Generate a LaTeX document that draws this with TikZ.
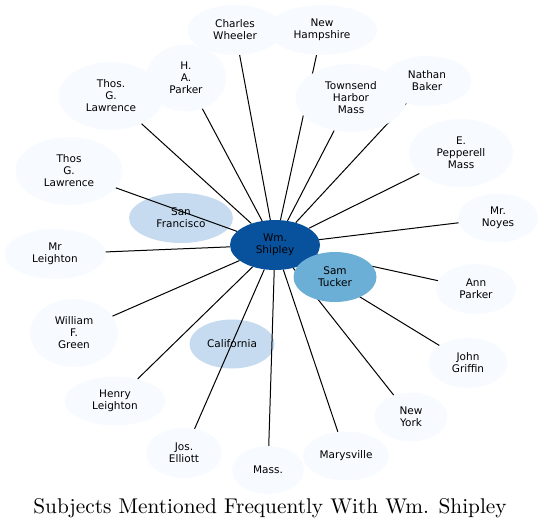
\documentclass[tikz,border=0pt]{standalone}
\usepackage{fontspec}
\newfontfamily\nodefont{DejaVu Sans}
\newfontfamily\titlefont{lmroman10-regular}[Extension=.otf]
\usetikzlibrary{shapes.geometric, backgrounds}
\definecolor{B0}{HTML}{F7FBFF}
\definecolor{B1}{HTML}{C6DBEF}
\definecolor{B2}{HTML}{6BAED6}
\definecolor{B3}{HTML}{08519C}
\tikzset{
  subj/.style 2 args={
    ellipse, inner sep=0pt,
    minimum width=#1, minimum height=#2,
    fill=B0, align=center,
    font=\nodefont\fontsize{10.5}{12}\selectfont
  },
  hub/.style={fill=B3},
  mid/.style={fill=B2},
  near/.style={fill=B1},
  edge/.style={draw=black, line width=1pt},
}

\begin{document}
\begin{tikzpicture}[x=1pt, y=-1pt]

  \useasboundingbox (0,0) rectangle (543,530);

  %% -- outer ring -----------------------------------------------------------

  \node[subj={95}{50}]  (wheeler)    at (235, 30)  {Charles\\Wheeler};
  \node[subj={110}{50}] (newhamp)    at (322, 30)  {New\\Hampshire};
  \node[subj={80}{67}]  (haparker)   at (186, 78)  {H.\\A.\\Parker};
  \node[subj={105}{68}] (thosdot)    at (111, 96)  {Thos.\\G.\\Lawrence};
  \node[subj={111}{68}] (townsend)   at (351, 98)  {Townsend\\Harbor\\Mass};
  \node[subj={89}{50}]  (baker)      at (427, 81)  {Nathan\\Baker};
  \node[subj={104}{68}] (pepperell)  at (461, 153) {E.\\Pepperell\\Mass};
  \node[subj={80}{49}]  (noyes)      at (498, 218) {Mr.\\Noyes};
  \node[subj={107}{68}] (thos)       at (69, 171)  {Thos\\G.\\Lawrence};
  \node[subj={101}{50}] (mrleighton) at (55, 254)  {Mr\\Leighton};
  \node[subj={88}{68}]  (green)      at (74, 333)  {William\\F.\\Green};
  \node[subj={101}{49}] (hleighton)  at (115, 401) {Henry\\Leighton};
  \node[subj={76}{50}]  (elliott)    at (184, 453) {Jos.\\Elliott};
  \node[subj={72}{48}]  (mass)       at (268, 470) {Mass.};
  \node[subj={86}{49}]  (marysville) at (346, 456) {Marysville};
  \node[subj={73}{49}]  (newyork)    at (411, 417) {New\\York};
  \node[subj={79}{50}]  (griffin)    at (468, 363) {John\\Griffin};
  \node[subj={80}{50}]  (annparker)  at (476, 289) {Ann\\Parker};

  %% -- inner nodes ----------------------------------------------------------

  \node[subj={104}{50}, near] (sanfran) at (181, 218) {San\\Francisco};
  \node[subj={85}{49}, near]  (calif)   at (232, 344) {California};
  \node[subj={90}{50}, hub]   (shipley) at (275, 245) {Wm.\\Shipley};
  \node[subj={83}{50}, mid]   (tucker)  at (335, 277) {Sam\\Tucker};

  %% -- connectors -----------------------------------------------------------

  % these run under Townsend and Sam Tucker
  \begin{scope}[on background layer]
    \foreach \n in {newhamp, baker, annparker, griffin, newyork}
      \draw[edge] (shipley) -- (\n);
  \end{scope}

  \foreach \n in {wheeler, haparker, thosdot, townsend, pepperell, noyes,
                  thos, mrleighton, green, hleighton, elliott, mass, marysville}
    \draw[edge] (shipley) -- (\n);

  %% -- title ----------------------------------------------------------------

  \node[anchor=base, font=\titlefont\fontsize{21.3}{24}\selectfont] (title)
    at (270, 513) {Subjects Mentioned Frequently With Wm. Shipley};

\end{tikzpicture}
\end{document}
